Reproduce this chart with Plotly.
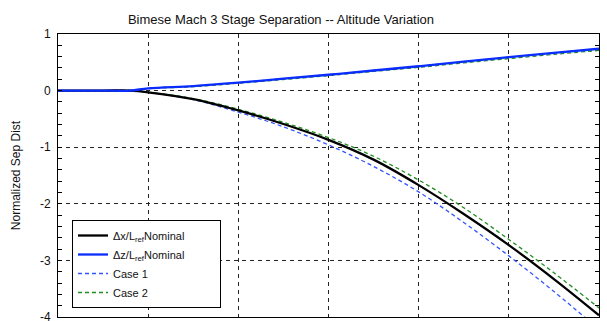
import plotly.graph_objects as go

# Data (x axis is unlabeled in the reference; 6 equal grid intervals)
t = [0, 0.5, 0.8, 1.0, 1.5, 2, 2.5, 3, 3.5, 4, 4.5, 5, 5.5, 6]
dx_nominal = [0, 0, 0, -0.03, -0.15, -0.35, -0.59, -0.87, -1.22, -1.67, -2.18, -2.73, -3.33, -3.97]
dz_nominal = [0, 0, 0, 0.04, 0.08, 0.14, 0.21, 0.28, 0.355, 0.43, 0.51, 0.59, 0.665, 0.74]
dx_case1 = [0, 0, 0, -0.03, -0.16, -0.38, -0.64, -0.96, -1.34, -1.79, -2.33, -2.92, -3.55, -4.22]
dz_case1 = [0, 0, 0, 0.04, 0.08, 0.14, 0.21, 0.28, 0.355, 0.43, 0.51, 0.59, 0.665, 0.74]
dx_case2 = [0, 0, 0, -0.03, -0.14, -0.33, -0.56, -0.83, -1.16, -1.58, -2.07, -2.63, -3.22, -3.84]
dz_case2 = [0, 0, 0, 0.035, 0.07, 0.13, 0.195, 0.265, 0.34, 0.41, 0.49, 0.565, 0.64, 0.71]
y_ticks = [1, 0, -1, -2, -3, -4]

title = "Bimese Mach 3 Stage Separation -- Altitude Variation"
names = ["\u0394x/L<sub>ref</sub>Nominal", "\u0394z/L<sub>ref</sub>Nominal", "Case 1", "Case 2"]
pad = "\u00a0" * 10  # widens the legend box like the reference

W, H = 607, 321
L, R, T, B = 58, 8, 34, 4
pw, ph = W - L - R, H - T - B

fig = go.Figure()
fig.add_trace(go.Scatter(x=t, y=dx_case1, mode="lines", name=names[2], legendrank=3,
                         line=dict(color="#3355ff", width=1.3, dash="4px,3px", shape="spline")))
fig.add_trace(go.Scatter(x=t, y=dz_case1, mode="lines", name=names[2], showlegend=False,
                         line=dict(color="#3355ff", width=1.3, dash="4px,3px", shape="spline")))
fig.add_trace(go.Scatter(x=t, y=dx_case2, mode="lines", name=names[3], legendrank=4,
                         line=dict(color="#1f8f1f", width=1.3, dash="4px,3px", shape="spline")))
fig.add_trace(go.Scatter(x=t, y=dz_case2, mode="lines", name=names[3], showlegend=False,
                         line=dict(color="#1f8f1f", width=1.3, dash="4px,3px", shape="spline")))
fig.add_trace(go.Scatter(x=t, y=dx_nominal, mode="lines", name=names[0] + pad, legendrank=1,
                         line=dict(color="black", width=2.3, shape="spline")))
fig.add_trace(go.Scatter(x=t, y=dz_nominal, mode="lines", name=names[1], legendrank=2,
                         line=dict(color="#0a2cff", width=2.3, shape="spline")))

fig.update_layout(
    width=W, height=H,
    margin=dict(l=L, r=R, t=T, b=B, autoexpand=False),
    paper_bgcolor="white", plot_bgcolor="white",
    font=dict(family="Liberation Sans, Arial, sans-serif", size=12, color="#111"),
    title=dict(text=title, x=281 / W, xanchor="center", y=1 - 19 / H, yanchor="middle",
               font=dict(size=13, color="#111")),
    showlegend=True,
    legend=dict(x=(72 - L) / pw, y=(317 - 220) / ph, xanchor="left", yanchor="top",
                bgcolor="white", bordercolor="black", borderwidth=1,
                font=dict(size=11, color="#111"), tracegroupgap=0),
)
fig.update_xaxes(range=[0, 6], dtick=1, tick0=0, showticklabels=False, ticks="",
                 showgrid=True, gridcolor="#222", griddash="4px,4px", gridwidth=1,
                 showline=True, linecolor="black", linewidth=1, mirror=True, zeroline=False)
fig.update_yaxes(range=[-4, 1], tickvals=y_ticks, ticktext=[str(v) for v in y_ticks],
                 ticks="inside", ticklen=4, tickcolor="black",
                 minor=dict(dtick=0.2, ticks="inside", ticklen=4, tickcolor="black", showgrid=False),
                 showgrid=True, gridcolor="#222", griddash="4px,4px", gridwidth=1,
                 showline=True, linecolor="black", linewidth=1, mirror="allticks", zeroline=False,
                 title=dict(text="Normalized Sep Dist", font=dict(size=12), standoff=16),
                 ticklabelstandoff=4, ticklabeloverflow="allow",
                 tickfont=dict(size=12), automargin=False)

fig.write_html("out.html", config={"displayModeBar": False},
               post_script="document.body.style.margin='0';document.body.style.overflow='hidden';")
